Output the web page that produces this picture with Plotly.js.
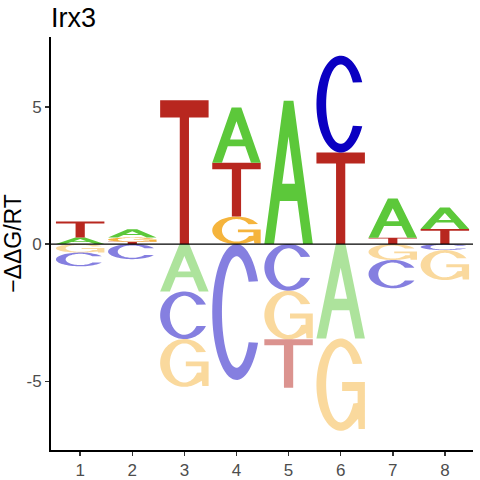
<!DOCTYPE html>
<html><head><meta charset="utf-8">
<script src="https://cdn.plot.ly/plotly-3.0.1.min.js"></script>
<style>html,body{margin:0;padding:0;background:#fff}</style>
</head><body><div id="chart" style="width:480px;height:480px"></div>
<script>
// ---- data ----
const positions = [1, 2, 3, 4, 5, 6, 7, 8];
const xTickLabels = ["1", "2", "3", "4", "5", "6", "7", "8"];
// positive stacks, listed from the zero line upward
const posLetters = [["A","T"], ["T","G","A"], ["T"], ["G","T","A"], ["A"], ["T","C"], ["T","A"], ["T","A"]];
const posHeights = [[0.24,0.58], [0.08,0.16,0.30], [5.24], [1.00,1.96,2.01], [5.22], [3.33,3.53], [0.23,1.43], [0.55,0.78]];
// negative stacks, listed from the zero line downward
const negLetters = [["G","C"], ["C"], ["A","C","G"], ["C"], ["C","G","T"], ["A","G"], ["G","C"], ["C","G"]];
const negHeights = [[0.31,0.50], [0.55], [1.73,1.73,1.74], [4.95], [1.70,1.77,1.76], [3.44,3.36], [0.58,1.03], [0.22,1.09]];
const yTickVals = [-5, 0, 5];
const yTickLabels = ["-5", "0", "5"];

// ---- style ----
const letterColors = {A: "#5cc83a", C: "#0b00c2", G: "#f5b43c", T: "#b8271f"};
const negOpacity = 0.5;
const letterWidth = 0.93;
const FONT = "Liberation Sans, Arial, sans-serif";

// ---- glyph outlines in a unit box ----
function arc(rx, ry, a0, a1, n) {
  const pts = [];
  for (let i = 0; i <= n; i++) {
    const a = (a0 + (a1 - a0) * i / n) * Math.PI / 180;
    pts.push([0.5 + rx * Math.cos(a), 0.5 + ry * Math.sin(a)]);
  }
  return pts;
}
const RXO = 0.5, RYO = 0.5, RXI = 0.30, RYI = 0.41;
const glyphs = {
  A: [
    [[0,0],[0.4,1],[0.6,1],[1,0],[0.8,0],[0.68,0.3],[0.32,0.3],[0.2,0]],
    [[0.368,0.42],[0.632,0.42],[0.5,0.75]]
  ],
  T: [
    [[0,1],[1,1],[1,0.88],[0.595,0.88],[0.595,0],[0.405,0],[0.405,0.88],[0,0.88]]
  ],
  C: [
    arc(RXO, RYO, 27, 333, 60).concat(arc(RXI, RYI, 327, 33, 60))
  ],
  G: [
    arc(RXO, RYO, 27, 300, 60)
      .concat([[0.86,0.13],[0.87,0.02],[1,0.02],[1,0.53],[0.53,0.53],[0.53,0.43],[0.85,0.43],[0.85,0.30]])
      .concat(arc(RXI, RYI, 330, 33, 60))
  ]
};

function letterPath(letter, xc, yBottom, h) {
  const x0 = xc - letterWidth / 2;
  return glyphs[letter].map(poly =>
    "M" + poly.map(p => (x0 + p[0] * letterWidth).toFixed(4) + "," + (yBottom + p[1] * h).toFixed(4)).join("L") + "Z"
  ).join(" ");
}

const shapes = [];
positions.forEach((xc, i) => {
  let y = 0;
  posLetters[i].forEach((L, j) => {
    const h = posHeights[i][j];
    shapes.push({type: "path", xref: "x", yref: "y", path: letterPath(L, xc, y, h),
      fillcolor: letterColors[L], line: {width: 0}, layer: "above"});
    y += h;
  });
  y = 0;
  negLetters[i].forEach((L, j) => {
    const h = negHeights[i][j];
    shapes.push({type: "path", xref: "x", yref: "y", path: letterPath(L, xc, y - h, h),
      fillcolor: letterColors[L], opacity: negOpacity, line: {width: 0}, layer: "above"});
    y -= h;
  });
});
// zero reference line
shapes.push({type: "line", xref: "paper", x0: 0, x1: 1, yref: "y", y0: 0, y1: 0,
  line: {color: "black", width: 1.2}, layer: "above"});

const traces = [{x: positions, y: positions.map(() => 0), mode: "none", type: "scatter",
  hoverinfo: "skip", showlegend: false}];

const axisCommon = {
  showline: true, linecolor: "black", linewidth: 2, showgrid: false, zeroline: false,
  ticks: "outside", ticklen: 4, tickwidth: 1.5, tickcolor: "#333333",
  tickfont: {family: FONT, size: 17, color: "#4d4d4d"}, fixedrange: true
};

const layout = {
  width: 480, height: 480,
  margin: {l: 51, r: 7, t: 37, b: 30, pad: 0},
  paper_bgcolor: "white", plot_bgcolor: "white",
  showlegend: false,
  title: {text: "Irx3", x: 0, xref: "paper", xanchor: "left", y: 0.964, yref: "container", yanchor: "middle",
    font: {family: FONT, size: 27, color: "black"}},
  xaxis: Object.assign({}, axisCommon, {range: [0.44, 8.54], tickmode: "array",
    tickvals: positions, ticktext: xTickLabels}),
  yaxis: Object.assign({}, axisCommon, {range: [-7.5, 7.54], tickmode: "array",
    tickvals: yTickVals, ticktext: yTickLabels,
    title: {text: "\u2212\u0394\u0394G/RT", font: {family: FONT, size: 23, color: "black"}, standoff: 0}}),
  shapes: shapes
};

Plotly.newPlot("chart", traces, layout, {displayModeBar: false, staticPlot: true});
</script>
</body></html>
